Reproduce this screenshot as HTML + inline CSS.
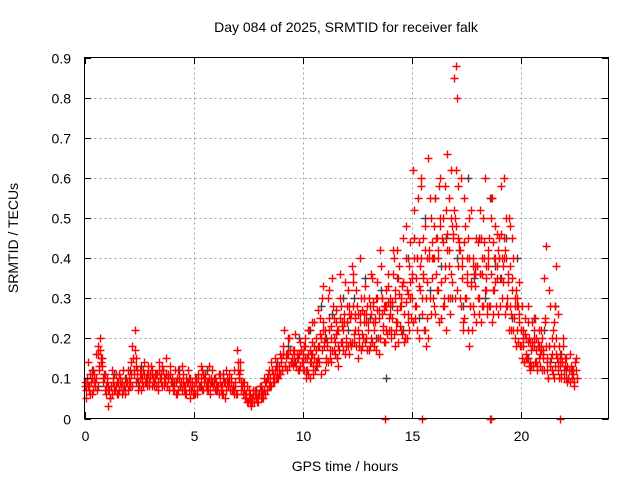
<!DOCTYPE html>
<html><head><meta charset="utf-8"><style>
html,body{margin:0;padding:0;background:#fff;}
svg{display:block;font-family:"Liberation Sans",sans-serif;}
</style></head><body>
<svg id="chart" width="640" height="480" viewBox="0 0 640 480" xmlns="http://www.w3.org/2000/svg">
<rect width="640" height="480" fill="#fff"/>
<g id="grid"></g>
<g id="black"></g>
<g id="red"></g>
<rect x="84.5" y="57.5" width="524" height="361" fill="none" stroke="#000" stroke-width="1"/>
<g id="ticks"></g>
<text x="346" y="32" font-size="14" text-anchor="middle">Day 084 of 2025, SRMTID for receiver falk</text>
<text x="345" y="471" font-size="14" text-anchor="middle">GPS time / hours</text>
<text transform="translate(18,238) rotate(-90)" font-size="14" text-anchor="middle">SRMTID / TECUs</text>
</svg>
<script>
const xTicks=[0,5,10,15,20];
const yTicks=[0,0.1,0.2,0.3,0.4,0.5,0.6,0.7,0.8,0.9];
const yTickLabels=["0","0.1","0.2","0.3","0.4","0.5","0.6","0.7","0.8","0.9"];
const dtAB=0.1, startA=0.0, startB=0.05, startD=0.025, startE=0.075;
const redA=[
.08,.10,.07,.09,.12,.08,.18,.20,.15,.10,
.06,.03,.08,.10,.07,.09,.11,.06,.08,.10,
.12,.09,.18,.22,.10,.08,.11,.12,.09,.13,
.10,.12,.08,.11,.14,.09,.12,.10,.08,.13,
.10,.07,.09,.12,.08,.11,.06,.09,.10,.07,
.06,.09,.11,.08,.12,.10,.07,.13,.09,.08,
.10,.07,.11,.06,.09,.12,.08,.10,.07,.09,
.17,.10,.07,.09,.05,.04,.06,.05,.07,.04,
.06,.08,.05,.09,.11,.08,.12,.10,.13,.11,
.15,.18,.13,.16,.20,.14,.17,.13,.15,.19,
.14,.18,.12,.22,.16,.11,.20,.15,.25,.30,
.18,.14,.25,.20,.28,.16,.22,.30,.19,.26,
.20,.32,.25,.36,.22,.28,.18,.30,.24,.20,
.22,.28,.35,.18,.30,.25,.38,.22,.28,.33,
.30,.25,.40,.22,.35,.28,.45,.20,.32,.38,
.35,.45,.28,.55,.38,.30,.48,.25,.42,.50,
.40,.55,.32,.60,.45,.30,.52,.38,.62,.45,
.50,.80,.42,.35,.55,.30,.45,.28,.40,.33,
.38,.30,.45,.50,.35,.42,.28,.55,.40,.35,
.45,.58,.38,.42,.30,.48,.35,.25,.32,.28,
.22,.18,.25,.15,.20,.17,.22,.14,.19,.16,
.20,.35,.12,.18,.15,.22,.28,.12,.16,.14,
.12,.15,.10,.13,.11,.14];
const redB=[
.05,.14,.11,.06,.09,.16,.12,.14,.09,.07,
.10,.05,.12,.08,.11,.06,.09,.12,.07,.09,
.08,.14,.12,.15,.07,.12,.09,.14,.11,.08,
.13,.09,.11,.07,.10,.13,.08,.15,.11,.09,
.08,.12,.06,.10,.13,.07,.10,.12,.05,.09,
.10,.06,.08,.13,.07,.11,.09,.06,.12,.10,
.07,.11,.08,.10,.05,.09,.11,.07,.12,.06,
.12,.14,.09,.06,.08,.07,.03,.07,.05,.06,
.08,.05,.10,.07,.12,.14,.09,.15,.10,.16,
.12,.22,.16,.20,.14,.17,.21,.16,.12,.17,
.18,.10,.22,.14,.19,.24,.13,.18,.11,.22,
.12,.30,.15,.35,.17,.24,.13,.28,.22,.34,
.28,.16,.38,.19,.32,.15,.26,.21,.33,.28,
.17,.36,.24,.30,.20,.42,.26,.19,.32,.25,
.22,.36,.18,.42,.28,.33,.19,.48,.26,.30,
.62,.25,.40,.20,.60,.35,.18,.65,.30,.40,
.28,.45,.58,.25,.50,.35,.66,.30,.48,.85,
.88,.38,.60,.22,.48,.40,.18,.52,.36,.45,
.30,.52,.36,.60,.28,.45,.55,.32,.48,.42,
.35,.40,.60,.28,.50,.22,.40,.20,.30,.24,
.28,.14,.20,.24,.12,.19,.25,.13,.22,.18,
.15,.43,.10,.28,.20,.10,.38,.18,.10,.20,
.15,.09,.16,.12,.08,.15];
const redD=[
.09,.09,.08,.10,.11,.10,.16,.17,.13,.11,
.09,.07,.08,.09,.08,.09,.10,.09,.08,.09,
.10,.11,.15,.17,.12,.10,.10,.11,.10,.11,
.11,.10,.10,.11,.12,.11,.10,.11,.10,.11,
.09,.09,.10,.10,.09,.09,.08,.09,.09,.08,
.08,.09,.10,.10,.11,.10,.09,.10,.10,.09,
.09,.08,.09,.08,.09,.10,.09,.09,.08,.08,
.14,.12,.08,.07,.06,.05,.05,.06,.06,.05,
.06,.07,.07,.09,.10,.10,.11,.12,.12,.13,
.14,.16,.15,.16,.17,.15,.16,.15,.16,.17,
.16,.15,.15,.17,.16,.15,.17,.18,.21,.24,
.20,.19,.22,.23,.25,.21,.22,.25,.23,.24,
.24,.26,.26,.28,.25,.26,.24,.27,.26,.24,
.24,.26,.29,.25,.27,.27,.30,.27,.28,.29,
.28,.29,.32,.27,.31,.30,.34,.29,.31,.34,
.36,.40,.35,.44,.40,.36,.42,.34,.40,.44,
.40,.45,.40,.48,.44,.38,.46,.42,.50,.46,
.48,.58,.42,.38,.44,.34,.40,.34,.38,.36,
.38,.36,.40,.44,.38,.40,.36,.44,.40,.38,
.40,.46,.40,.40,.34,.38,.32,.28,.28,.26,
.22,.20,.21,.19,.19,.18,.20,.17,.18,.17,
.17,.24,.15,.18,.16,.18,.20,.14,.15,.14,
.13,.13,.12,.12,.12,.12];
const redE=[
.07,.08,.06,.07,.09,.07,.13,.15,.11,.08,
.07,.05,.06,.07,.06,.07,.08,.07,.06,.07,
.08,.08,.11,.13,.09,.07,.08,.09,.08,.09,
.08,.09,.08,.09,.10,.08,.09,.08,.07,.09,
.07,.06,.07,.08,.07,.08,.06,.07,.07,.06,
.06,.07,.08,.07,.09,.08,.07,.08,.08,.07,
.07,.06,.07,.06,.07,.08,.07,.07,.06,.06,
.11,.09,.06,.05,.04,.04,.04,.04,.05,.04,
.05,.06,.06,.07,.08,.08,.09,.10,.10,.11,
.12,.13,.12,.13,.14,.13,.14,.12,.13,.14,
.12,.12,.11,.14,.13,.12,.14,.14,.17,.19,
.15,.14,.17,.17,.19,.15,.17,.19,.17,.18,
.18,.19,.19,.21,.18,.20,.17,.20,.19,.17,
.18,.19,.22,.17,.20,.20,.23,.19,.21,.22,
.20,.21,.24,.19,.23,.21,.26,.20,.22,.25,
.24,.28,.22,.32,.26,.22,.30,.20,.26,.30,
.26,.32,.24,.34,.28,.22,.30,.26,.34,.30,
.32,.44,.28,.24,.30,.22,.28,.22,.26,.24,
.26,.24,.28,.32,.26,.28,.24,.32,.28,.26,
.28,.34,.26,.28,.22,.26,.22,.18,.19,.18,
.15,.14,.15,.13,.13,.13,.14,.12,.13,.12,
.12,.18,.10,.13,.11,.13,.15,.10,.11,.10,
.10,.10,.09,.10,.09,.10];
const startC=10.03;
const redC=[
.12,.20,.16,.10,.24,.18,.14,.27,.20,.33,
.22,.18,.32,.14,.20,.27,.18,.36,.24,.16,
.24,.28,.18,.34,.26,.22,.40,.18,.30,.26,
.30,.20,.28,.24,.34,.16,.30,.28,.22,.36,
.26,.42,.30,.24,.38,.22,.34,.40,.24,.44,
.30,.52,.40,.33,.58,.45,.22,.40,.55,.35,
.48,.36,.42,.50,.28,.58,.42,.55,.36,.52,
.62,.45,.30,.40,.25,.36,.50,.33,.28,.38,
.44,.36,.28,.40,.32,.38,.50,.26,.34,.46,
.40,.30,.45,.50,.36,.28,.45,.30,.22,.34,
.18,.22,.16,.28,.14,.24,.18,.20,.15,.22,
.16,.25,.14,.32,.12,.24,.16,.26,.13,.18];
const zeroTimes=[13.8,15.5,18.6,18.65,21.8];
const dtK=0.25, startK=0.1;
const blackK=[
.09,.12,.08,.10,.08,.11,.07,.10,.12,.09,.13,.10,.11,.08,.12,.10,
.09,.12,.07,.10,.10,.08,.12,.09,.08,.11,.09,.07,.10,.06,.05,.07,
.07,.10,.12,.14,.16,.18,.14,.20,.15,.22,.13,.28,.20,.26,.15,.30,
.22,.30,.18,.35,.25,.20,.32,.10,.28,.35,.22,.40,.45,.25,.50,.32,
.55,.38,.45,.30,.40,.28,.60,.35,.45,.30,.55,.38,.35,.45,.25,.40,
.20,.15,.25,.18,.22,.14,.28,.16,.12,.10];

const NS="http://www.w3.org/2000/svg";
function X(h){return 84.5+h*21.8;}
function Y(v){return 418.5-v*401.1;}
function plus(g,t,v,color){
  const p=document.createElementNS(NS,'path');
  const x=Math.round(X(t))+0.5,y=Math.round(Y(v))+0.5;
  p.setAttribute('d','M'+(x-4)+' '+y+'H'+(x+4)+'M'+x+' '+(y-4)+'V'+(y+4));
  p.setAttribute('stroke',color);p.setAttribute('stroke-width','1.4');p.setAttribute('fill','none');
  
  
  g.appendChild(p);
}
const grid=document.getElementById('grid'),ticks=document.getElementById('ticks');
function line(g,x1,y1,x2,y2,st,dash,name){
  const l=document.createElementNS(NS,'line');
  l.setAttribute('x1',x1);l.setAttribute('y1',y1);l.setAttribute('x2',x2);l.setAttribute('y2',y2);
  l.setAttribute('stroke',st);l.setAttribute('stroke-width','1');
  if(dash)l.setAttribute('stroke-dasharray',dash);
  
  
  g.appendChild(l);
}
function label(x,y,s,anchor,name){
  const t=document.createElementNS(NS,'text');
  t.setAttribute('x',x);t.setAttribute('y',y);t.setAttribute('font-size','14');t.setAttribute('text-anchor',anchor);
  t.textContent=s;
  
  
  ticks.appendChild(t);
}
xTicks.forEach(h=>{const x=Math.round(X(h))+0.5;
  if(h>0)line(grid,x,57.5,x,418.5,'#a0a0a0','2,3','x-gridline');
  line(ticks,x,418.5,x,412,'#000',null,'x-tick');line(ticks,x,57.5,x,64,'#000',null,'x-tick-top');
  label(x,441,String(h),'middle','x-tick-label');});
yTicks.forEach((v,i)=>{const y=Math.round(Y(v))+0.5;
  if(i>0&&i<yTicks.length-1)line(grid,84.5,y,608.5,y,'#a0a0a0','2,3','y-gridline');
  line(ticks,84.5,y,91,y,'#000',null,'y-tick');line(ticks,608.5,y,602,y,'#000',null,'y-tick-right');
  label(71,y+5,yTickLabels[i],'end','y-tick-label');});
const bg=document.getElementById('black'),rg=document.getElementById('red');
blackK.forEach((v,i)=>plus(bg,startK+i*dtK,v,'#404040'));
redA.forEach((v,i)=>plus(rg,startA+i*dtAB,v,'#ff0000'));
redB.forEach((v,i)=>plus(rg,startB+i*dtAB,v,'#ff0000'));
redD.forEach((v,i)=>plus(rg,startD+i*dtAB,v,'#ff0000'));
redE.forEach((v,i)=>plus(rg,startE+i*dtAB,v,'#ff0000'));
redC.forEach((v,i)=>plus(rg,startC+i*dtAB,v,'#ff0000'));
zeroTimes.forEach(t=>plus(rg,t,0,'#ff0000'));
</script>
</body></html>
